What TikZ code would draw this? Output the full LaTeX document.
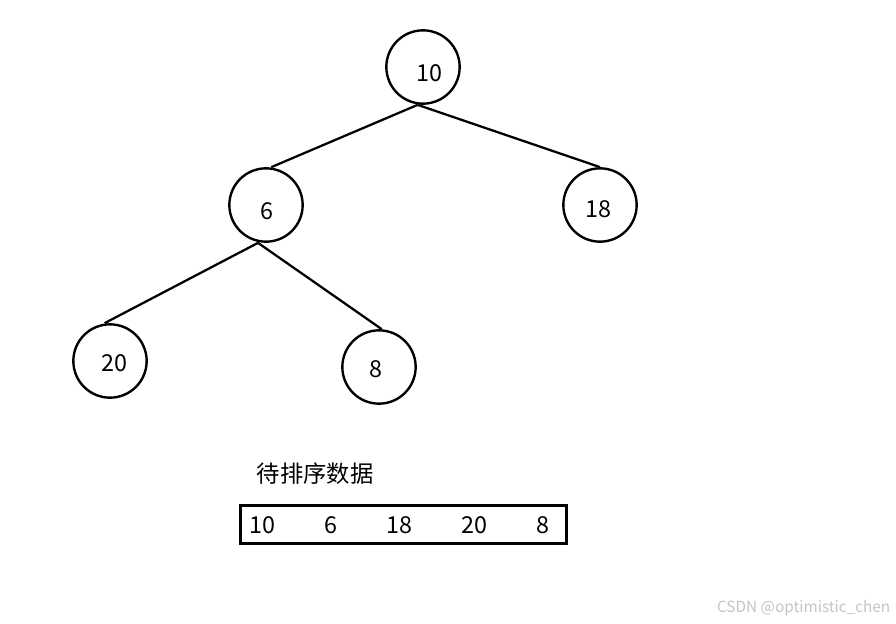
\documentclass[tikz,border=0pt]{standalone}
\usepackage{fontspec}
\usepackage{xcolor}
\usepackage{tikz}
\usetikzlibrary{positioning}
\newfontfamily\cjk{Noto Sans CJK SC}
\definecolor{markGray}{HTML}{C4C4C4}

\begin{document}
\begin{tikzpicture}[x=0.75pt,y=-0.75pt,font=\cjk\fontsize{17.5}{21}\selectfont,
  key/.style={circle,draw,line width=1.8pt,minimum size=55pt,inner sep=0pt},
  edge/.style={line width=1.7pt}]
\useasboundingbox (0,0) rectangle (896,624);
% --- heap tree ---
\node[key] (n10) at (423,67) {};
\node[key] (n6)  at (266,205) {};
\node[key] (n18) at (600,205) {};
\node[key] (n20) at (110,361) {};
\node[key] (n8)  at (379,367) {};
\node (t10) at (429,73) {10};
\node (t6)  at (267,211) {6};
\node (t18) at (598,209) {18};
\node (t20) at (114,363) {20};
\node (t8)  at (376,369) {8};
\draw[edge] ([xshift=-4pt]n10.south) -- ([xshift=4pt]n6.north);
\draw[edge] ([xshift=-4pt]n10.south) -- (n18.north);
\draw[edge] ([xshift=-6pt]n6.south) -- ([xshift=-4pt]n20.north);
\draw[edge] ([xshift=-6pt]n6.south) -- ([xshift=2pt]n8.north);
% --- data to sort ---
\node (title) at (315,474) {待排序数据};
\node[draw,line width=2.4pt,minimum width=245pt,minimum height=29pt,inner sep=0pt]
  (arr) at (403.5,524.5) {};
\node (a1) at (262,525) {10};
\node (a2) at (331,525) {6};
\node (a3) at (399,525) {18};
\node (a4) at (474,525) {20};
\node (a5) at (543,525) {8};
% watermark
\node[text=markGray,font=\cjk\fontsize{11.5}{14}\selectfont,anchor=east] (mark) at (895,608) {CSDN @optimistic\_chen};
\end{tikzpicture}
\end{document}
